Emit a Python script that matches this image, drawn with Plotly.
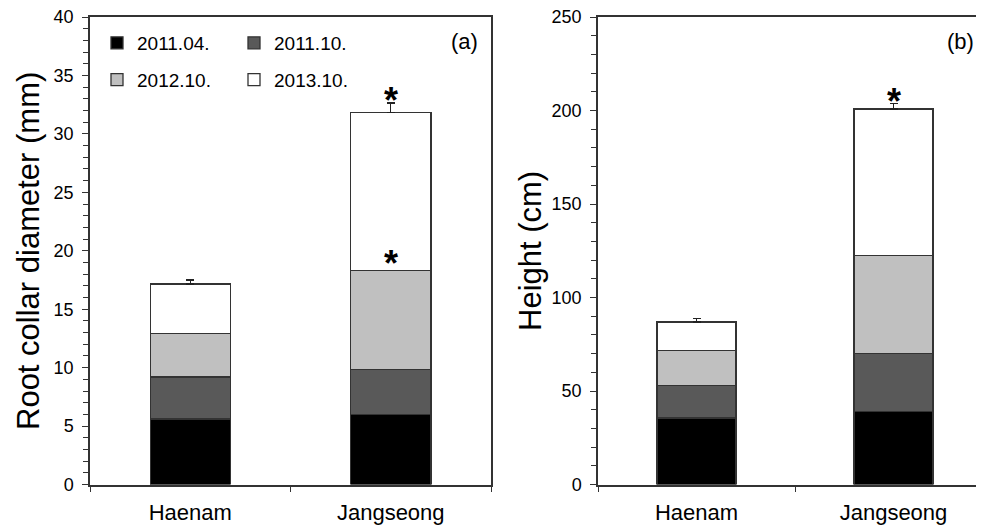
import numpy as np
import plotly.graph_objects as go

sites = ["Haenam", "Jangseong"]
dates = ["2011.04.", "2011.10.", "2012.10.", "2013.10."]
colors = ["#000000", "#595959", "#c0c0c0", "#ffffff"]

# cumulative values at each date
diam_haenam = [5.6, 9.2, 12.95, 17.15]
diam_jang = [6.0, 9.85, 18.3, 31.85]
diam_err_haenam = [0.05, 0.1, 0.2, 0.35]
diam_err_jang = [0.05, 0.15, 0.4, 0.8]

height_haenam = [35.6, 52.8, 71.6, 86.9]
height_jang = [38.9, 69.9, 122.3, 200.8]
height_err_haenam = [0.5, 0.6, 1.4, 1.8]
height_err_jang = [0.5, 1.2, 1.2, 2.8]

# significance marks (site Jangseong) per date
diam_sig = [False, False, True, True]
height_sig = [False, False, False, True]

y_titles = ["Root collar diameter (mm)", "Height (cm)"]
panel_labels = ["(a)", "(b)"]

FONT = "Liberation Sans, Arial, sans-serif"
AX = "#333333"

# figure size (page has an 8px body margin)
W, H, OFF = 968, 520, 8


def px(x):  # page x -> paper x
    return (x - OFF) / W


def py(y):  # page y -> paper y
    return (H - (y - OFF)) / H


fig = go.Figure()


def add_panel(cum_h, cum_j, err_h, err_j, xa, ya, showleg):
    inc_h = np.diff([0] + cum_h)
    inc_j = np.diff([0] + cum_j)
    for i, d in enumerate(dates):
        fig.add_trace(go.Bar(
            x=sites, y=[inc_h[i], inc_j[i]], name=d,
            marker=dict(color=colors[i], line=dict(color=AX, width=1.3)),
            width=0.4,
            error_y=dict(type="data", symmetric=False, array=[err_h[i], err_j[i]],
                         arrayminus=[0, 0], width=4, thickness=1.3, color="#222222"),
            xaxis=xa, yaxis=ya,
            legend="legend" if i % 2 == 0 else "legend2",
            legendgroup=d, showlegend=showleg,
        ))


add_panel(diam_haenam, diam_jang, diam_err_haenam, diam_err_jang, "x", "y", True)
add_panel(height_haenam, height_jang, height_err_haenam, height_err_jang, "x2", "y2", False)

annotations = []
for i in range(len(dates)):
    if diam_sig[i]:
        annotations.append(dict(x=sites[1], y=diam_jang[i] + diam_err_jang[i], xref="x", yref="y",
                                text="<b>*</b>", showarrow=False, yanchor="middle", yshift=2,
                                font=dict(family=FONT, size=36, color="#000")))
    if height_sig[i]:
        annotations.append(dict(x=sites[1], y=height_jang[i] + height_err_jang[i], xref="x2", yref="y2",
                                text="<b>*</b>", showarrow=False, yanchor="middle", yshift=2,
                                font=dict(family=FONT, size=36, color="#000")))

annotations.append(dict(x=px(480), y=py(42), xref="paper", yref="paper", text=panel_labels[0],
                        showarrow=False, xanchor="right", yanchor="middle",
                        font=dict(family=FONT, size=22, color="#000")))
annotations.append(dict(x=px(976), y=py(42), xref="paper", yref="paper", text=panel_labels[1],
                        showarrow=False, xanchor="right", yanchor="middle",
                        font=dict(family=FONT, size=22, color="#000")))

# axis titles
annotations.append(dict(x=px(28), y=py(251), xref="paper", yref="paper", text=y_titles[0],
                        textangle=-90, showarrow=False, xanchor="center", yanchor="middle",
                        font=dict(family=FONT, size=31, color="#000")))
annotations.append(dict(x=px(530), y=py(251), xref="paper", yref="paper", text=y_titles[1],
                        textangle=-90, showarrow=False, xanchor="center", yanchor="middle",
                        font=dict(family=FONT, size=31, color="#000")))

ydom = [py(484.5), py(17)]

xcommon = dict(type="category", tickson="boundaries", ticks="outside", ticklen=6, tickcolor=AX,
               showline=True, linecolor=AX, linewidth=1.5, mirror=True, showgrid=False,
               ticklabelstandoff=7,
               tickfont=dict(family=FONT, size=22, color="#000"), automargin=False)

ycommon = dict(ticks="outside", ticklen=6, tickcolor=AX, showline=True, linecolor=AX, linewidth=1.5,
               showgrid=False, ticklabelstandoff=5, ticklabeloverflow="allow",
               tickfont=dict(family=FONT, size=18, color="#000"), automargin=False)

# right panel: slot width ~197px starting at page x 598, cut by the page edge
right_end = (976 - 598) / 197 - 0.5

fig.update_layout(
    width=W, height=H, margin=dict(l=0, r=0, t=0, b=0),
    plot_bgcolor="white", paper_bgcolor="white", barmode="stack",
    xaxis=dict(xcommon, domain=[px(90), px(491)], range=[-0.5, 1.5], anchor="y"),
    xaxis2=dict(xcommon, domain=[px(598), 1.0], range=[-0.5, right_end], anchor="y2"),
    yaxis=dict(ycommon, domain=ydom, range=[0, 40], tickvals=list(range(0, 41, 5)), mirror=True,
               minor=dict(dtick=1, ticks="outside", ticklen=5, tickcolor=AX), anchor="x"),
    yaxis2=dict(ycommon, domain=ydom, range=[0, 250], tickvals=list(range(0, 251, 50)), mirror=False,
                minor=dict(dtick=10, ticks="outside", ticklen=5, tickcolor=AX), anchor="x2"),
    legend=dict(x=px(97), y=py(24), xanchor="left", yanchor="top", tracegroupgap=9,
                bgcolor="rgba(0,0,0,0)", font=dict(family=FONT, size=19, color="#000")),
    legend2=dict(x=px(234), y=py(24), xanchor="left", yanchor="top", tracegroupgap=9,
                 bgcolor="rgba(0,0,0,0)", font=dict(family=FONT, size=19, color="#000")),
    annotations=annotations,
)

fig.write_html("out.html")
